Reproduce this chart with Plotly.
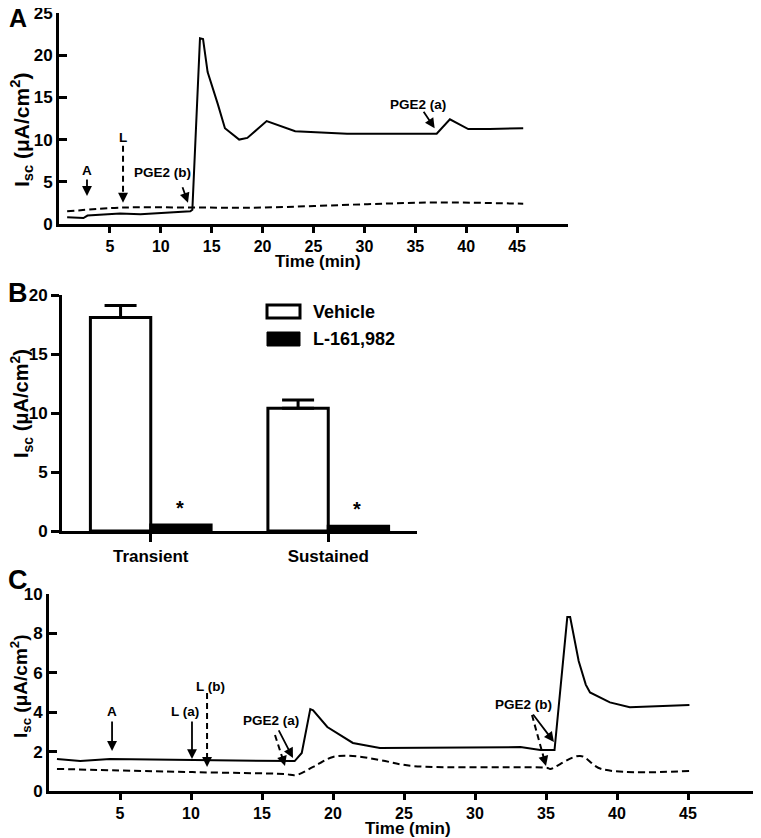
import plotly.graph_objects as go

# Panel A: Isc traces (time in min, Isc in uA/cm2)
a_solid_t = [0.8, 2.4, 2.8, 6.0, 8.0, 10.9, 12.9, 13.1, 13.85, 14.15, 14.6, 15.6, 16.3, 17.7, 18.5,
             20.4, 23.2, 28.3, 37.1, 38.4, 40.2, 42.3, 45.6]
a_solid_v = [0.8, 0.7, 1.0, 1.25, 1.15, 1.35, 1.5, 1.7, 22.0, 21.9, 18.0, 14.2, 11.35, 10.0, 10.2,
             12.2, 11.0, 10.7, 10.7, 12.4, 11.25, 11.25, 11.35]
a_dash_t = [0.8, 6.3, 12.9, 20.0, 30.3, 37.1, 45.6]
a_dash_v = [1.5, 1.95, 1.95, 1.95, 2.35, 2.55, 2.4]

# Panel B: bar summary
b_categories = ["Transient", "Sustained"]
b_vehicle = [18.1, 10.4]
b_vehicle_err = [1.0, 0.7]
b_l161 = [0.5, 0.4]

# Panel C: Isc traces
c_solid_t = [0.56, 2.2, 4.3, 10.6, 14.2, 17.3, 17.8, 18.4, 18.6, 19.6, 21.4, 23.3, 33.2, 34.6, 35.6,
             36.5, 36.7, 37.3, 37.8, 38.1, 39.5, 40.9, 45.1]
c_solid_v = [1.62, 1.52, 1.62, 1.57, 1.57, 1.52, 1.93, 4.16, 4.1, 3.25, 2.44, 2.18, 2.23, 2.08, 2.08,
             8.83, 8.83, 6.6, 5.4, 5.0, 4.5, 4.25, 4.37]
c_dash_t = [0.56, 10.1, 16.6, 17.4, 18.6, 20.0, 21.4, 23.3, 25.6, 35.1, 35.3, 37.4, 38.9, 45.1]
c_dash_v = [1.12, 0.96, 0.86, 0.81, 1.22, 1.73, 1.78, 1.57, 1.27, 1.17, 1.12, 1.78, 1.12, 1.02]

W, H = 761, 838
PAGE_PAD = 8  # default body margin of the html page
FONT = "Liberation Sans, Arial, sans-serif"
YTITLE = "I<sub>sc</sub> (μA/cm<sup>2</sup>)"


def px_x(p):
    return min(1.0, max(0.0, (p - PAGE_PAD) / W))


def px_y(p):
    return min(1.0, max(0.0, 1 - (p - PAGE_PAD) / H))


fig = go.Figure()

line_solid = dict(color="black", width=2)
line_dash = dict(color="black", width=2, dash="7px,4px")

fig.add_trace(go.Scatter(x=a_solid_t, y=a_solid_v, mode="lines", line=line_solid,
                         xaxis="x", yaxis="y", showlegend=False))
fig.add_trace(go.Scatter(x=a_dash_t, y=a_dash_v, mode="lines", line=line_dash,
                         xaxis="x", yaxis="y", showlegend=False, line_shape="spline"))

fig.add_trace(go.Bar(x=b_categories, y=b_vehicle, name="Vehicle", xaxis="x2", yaxis="y2",
                     marker=dict(color="white", line=dict(color="black", width=3)),
                     error_y=dict(type="data", symmetric=False, array=b_vehicle_err,
                                  arrayminus=[0, 0], color="black", thickness=3, width=16),
                     showlegend=False))
fig.add_trace(go.Bar(x=b_categories, y=b_l161, name="L-161,982", xaxis="x2", yaxis="y2",
                     marker=dict(color="black", line=dict(color="black", width=3)),
                     showlegend=False))

fig.add_trace(go.Scatter(x=c_solid_t, y=c_solid_v, mode="lines", line=line_solid,
                         xaxis="x3", yaxis="y3", showlegend=False))
fig.add_trace(go.Scatter(x=c_dash_t, y=c_dash_v, mode="lines", line=line_dash,
                         xaxis="x3", yaxis="y3", showlegend=False, line_shape="spline"))

axis_common = dict(showline=True, linecolor="black", linewidth=3, showgrid=False, zeroline=False,
                   ticks="outside", tickcolor="black", tickwidth=3, ticklen=8, automargin=False,
                   ticklabeloverflow="allow",
                   tickfont=dict(size=17, family=FONT, color="black", weight="bold"))
time_ticks = dict(tickvals=[5, 10, 15, 20, 25, 30, 35, 40, 45], ticklen=6,
                  tickfont=dict(size=16, family=FONT, color="black", weight="bold"))

fig.update_layout(
    width=W, height=H,
    margin=dict(l=0, r=0, t=0, b=0, autoexpand=False),
    paper_bgcolor="white", plot_bgcolor="white",
    font=dict(family=FONT, color="black", weight="bold"),
    barmode="group", bargap=0.32, bargroupgap=0,
    xaxis=dict(axis_common, domain=[px_x(59), px_x(568)], range=[0, 50], anchor="y",
               **time_ticks),
    yaxis=dict(axis_common, domain=[px_y(224), px_y(13)], range=[0, 25],
               tickvals=[0, 5, 10, 15, 20, 25], ticks="inside", anchor="x"),
    xaxis2=dict(axis_common, domain=[px_x(62), px_x(417)], range=[-0.5, 1.5],
                type="category", anchor="y2"),
    yaxis2=dict(axis_common, domain=[px_y(531), px_y(295)], range=[0, 20],
                tickvals=[0, 5, 10, 15, 20], anchor="x2"),
    xaxis3=dict(axis_common, domain=[px_x(49), px_x(759)], range=[0, 50], anchor="y3",
                **time_ticks),
    yaxis3=dict(axis_common, domain=[px_y(791), px_y(594)], range=[0, 10],
                tickvals=[0, 2, 4, 6, 8, 10], ticks="inside", anchor="x3"),
)

annotations = []
shapes = []


def label(text, x, y, xref, yref, size=13.5):
    annotations.append(dict(text=text, x=x, y=y, xref=xref, yref=yref, showarrow=False,
                            xanchor="center", yanchor="middle",
                            font=dict(size=size, family=FONT, color="black", weight="bold")))


def arrow(x, y, dx, dy, xref, yref):
    # solid arrow; head at data (x, y), tail offset (dx, dy) in screen pixels
    annotations.append(dict(text="", x=x, y=y, xref=xref, yref=yref, ax=dx, ay=dy,
                            showarrow=True, arrowhead=2, arrowsize=1.1, arrowwidth=1.8,
                            arrowcolor="black"))


def dashed_arrow(x, y, dx, dy, xref, yref):
    # dashed shaft as a shape, head as a short annotation arrow
    length = (dx * dx + dy * dy) ** 0.5
    ux, uy = dx / length, dy / length
    shapes.append(dict(type="line", xref=xref, yref=yref, xsizemode="pixel", ysizemode="pixel",
                       xanchor=x, yanchor=y, x0=dx, y0=-dy, x1=ux * 6, y1=-uy * 6,
                       line=dict(color="black", width=2, dash="6px,4px")))
    annotations.append(dict(text="", x=x, y=y, xref=xref, yref=yref, ax=ux * 8, ay=uy * 8,
                            showarrow=True, arrowhead=2, arrowsize=1.1, arrowwidth=1.8,
                            arrowcolor="black"))


# panel A markers
label("A", 2.75, 6.3, "x", "y")
arrow(2.75, 3.33, 0, -18, "x", "y")
label("L", 6.29, 10.2, "x", "y")
dashed_arrow(6.29, 2.52, 0, -57, "x", "y")
label("PGE2 (b)", 10.2, 6.1, "x", "y")
arrow(12.67, 2.52, -6, -17, "x", "y")
label("PGE2 (a)", 35.3, 14.1, "x", "y")
arrow(36.9, 11.35, -12, -18, "x", "y")

# panel C markers
label("A", 4.44, 4.06, "x3", "y3")
arrow(4.44, 2.03, 0, -31, "x3", "y3")
label("L (a)", 9.58, 4.06, "x3", "y3")
arrow(10.07, 1.62, 0, -39, "x3", "y3")
label("L (b)", 11.34, 5.33, "x3", "y3")
dashed_arrow(11.13, 1.22, 0, -74, "x3", "y3")
label("PGE2 (a)", 15.63, 3.6, "x3", "y3")
arrow(17.18, 1.68, -15, -29, "x3", "y3")
dashed_arrow(16.62, 1.27, -10, -31, "x3", "y3")
label("PGE2 (b)", 33.38, 4.37, "x3", "y3")
arrow(35.56, 2.49, -22, -29, "x3", "y3")
dashed_arrow(35.0, 1.27, -14, -51, "x3", "y3")

# significance stars over L-161,982 bars
for cat, val in zip(b_categories, b_l161):
    annotations.append(dict(text="*", x=cat, y=val, xref="x2", yref="y2", xshift=29, yshift=4,
                            xanchor="center", yanchor="bottom", showarrow=False,
                            font=dict(size=20, family=FONT, color="black", weight="bold")))

# panel letters, axis titles
for text, x, y, size in [("A", 18, 18, 25), ("B", 18, 293, 27), ("C", 18, 580, 27)]:
    label(text, px_x(x), px_y(y), "paper", "paper", size=size)
label("Time (min)", px_x(318), px_y(262), "paper", "paper", size=17)
label("Time (min)", px_x(408), px_y(828), "paper", "paper", size=17)
for x, y, size in [(21, 130, 21), (21, 404, 20), (20, 686, 19)]:
    annotations.append(dict(text=YTITLE, x=px_x(x), y=px_y(y), xref="paper", yref="paper",
                            textangle=-90, showarrow=False, xanchor="center", yanchor="middle",
                            font=dict(size=size, family=FONT, color="black", weight="bold")))

# bar legend
shapes.append(dict(type="rect", xref="paper", yref="paper", x0=px_x(267), x1=px_x(300),
                   y0=px_y(318), y1=px_y(305), line=dict(color="black", width=3),
                   fillcolor="white"))
shapes.append(dict(type="rect", xref="paper", yref="paper", x0=px_x(267), x1=px_x(300),
                   y0=px_y(346), y1=px_y(332), line=dict(color="black", width=1),
                   fillcolor="black"))
for text, y in [("Vehicle", 312), ("L-161,982", 339)]:
    annotations.append(dict(text=text, x=px_x(311), y=px_y(y), xref="paper", yref="paper",
                            xanchor="left", yanchor="middle", showarrow=False,
                            font=dict(size=18, family=FONT, color="black", weight="bold")))

fig.update_layout(annotations=annotations, shapes=shapes)

fig.write_html("out.html")
